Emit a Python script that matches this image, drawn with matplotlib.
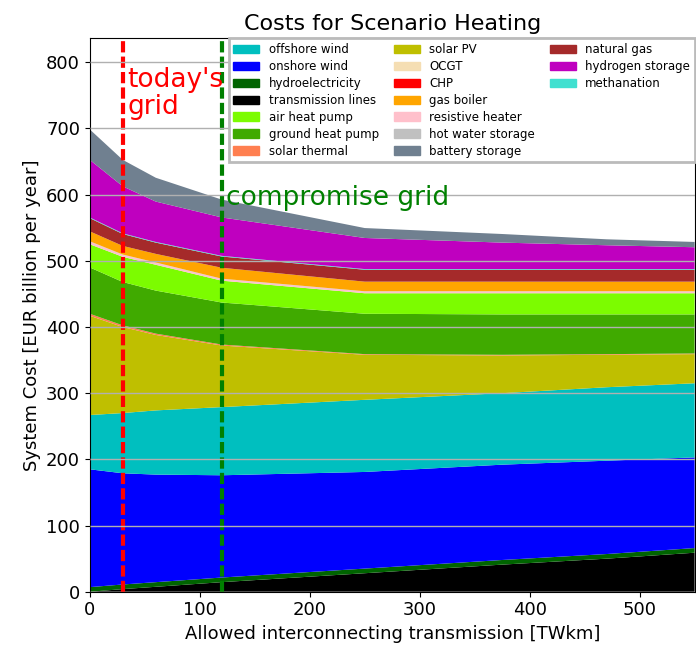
import matplotlib
matplotlib.use('Agg')
import matplotlib.pyplot as plt
import matplotlib.patches as mpatches

# allowed interconnecting transmission [TWkm]
x = [0, 30, 60, 120, 250, 375, 470, 550]

# costs [EUR billion per year], stacked bottom-up
transmission_lines = [0, 4, 7.5, 14.5, 28, 41, 50, 59]
hydroelectricity = [7, 7, 7, 7, 7, 7, 7, 7]
onshore_wind = [178, 168, 162.5, 154.5, 146, 144, 141, 137]
offshore_wind = [82, 91, 97, 103, 109, 108, 111, 112]
solar_pv = [150, 130, 114, 93, 68, 57, 49, 44]
solar_thermal = [3, 2.5, 2, 1.5, 1, 1, 1, 1]
ground_heat_pump = [70, 65.5, 65, 63.5, 61, 61, 60, 59]
air_heat_pump = [35, 38, 39, 33, 31, 32, 32, 32]
resistive_heater = [4, 3, 3, 2.5, 2.5, 2.5, 2.5, 2.5]
hot_water_storage = [0.5, 0.5, 0.5, 0.5, 0.5, 0.5, 0.5, 0.5]
gas_boiler = [15, 13, 13, 16.5, 14.5, 14.5, 14.5, 14.5]
chp = [0, 0, 0, 0, 0, 0, 0, 0]
ocgt = [0, 0, 0, 0, 0, 0, 0, 0]
natural_gas = [20, 18, 17, 17, 18, 18, 18, 18]
methanation = [1, 1, 1, 1, 1, 1, 1, 1]
hydrogen_storage = [87, 71, 61, 58, 47, 40, 36, 33]
battery_storage = [46, 40, 36, 27, 15, 13, 9, 8]

stack = [
	('transmission lines', transmission_lines, 'k'),
	('hydroelectricity', hydroelectricity, 'darkgreen'),
	('onshore wind', onshore_wind, 'b'),
	('offshore wind', offshore_wind, 'c'),
	('solar PV', solar_pv, 'y'),
	('solar thermal', solar_thermal, 'coral'),
	('ground heat pump', ground_heat_pump, '#40AA00'),
	('air heat pump', air_heat_pump, 'lawngreen'),
	('resistive heater', resistive_heater, 'pink'),
	('hot water storage', hot_water_storage, 'silver'),
	('gas boiler', gas_boiler, 'orange'),
	('CHP', chp, 'r'),
	('OCGT', ocgt, 'wheat'),
	('natural gas', natural_gas, 'brown'),
	('methanation', methanation, 'turquoise'),
	('hydrogen storage', hydrogen_storage, 'm'),
	('battery storage', battery_storage, 'slategray'),
]
colors = dict((s[0], s[2]) for s in stack)

legend_order = ['offshore wind', 'onshore wind', 'hydroelectricity', 'transmission lines',
	'air heat pump', 'ground heat pump', 'solar thermal',
	'solar PV', 'OCGT', 'CHP', 'gas boiler', 'resistive heater', 'hot water storage', 'battery storage',
	'natural gas', 'hydrogen storage', 'methanation']

today = 30
compromise = 120

fig = plt.figure(figsize=(6.96, 6.51), dpi=100)
ax = fig.add_axes([0.129, 0.091, 0.869, 0.850])

ax.stackplot(x, [s[1] for s in stack], colors=[s[2] for s in stack])

ax.set_xlim([0, 550])
ax.set_ylim([0, 836])
ax.yaxis.grid(True, color='#b0b0b0', linewidth=1)
ax.set_axisbelow(False)

ax.axvline(today, color='r', linewidth=3, linestyle=(0, (2.7, 1)))
ax.axvline(compromise, color='g', linewidth=3, linestyle=(0, (2.7, 1)))
ax.text(today + 4, 712, "today's\ngrid", color='r', fontsize=19, va='bottom', linespacing=1.05)
ax.text(compromise + 4, 576, 'compromise grid', color='g', fontsize=19, va='bottom')

handles = [mpatches.Patch(color=colors[n], label=n) for n in legend_order]
# pad the third column so that it holds only three entries
for i in range(4):
	handles.append(mpatches.Patch(color='none', label=''))
leg = ax.legend(handles=handles, ncol=3, loc='upper right', fontsize=8.5,
	borderaxespad=0, labelspacing=0.33, columnspacing=1.25, handlelength=2.2,
	fancybox=False, framealpha=1)
leg.get_frame().set_edgecolor('#bbbbbb')
leg.get_frame().set_linewidth(2)

ax.tick_params(labelsize=13)
ax.set_title('Costs for Scenario Heating', fontsize=16)
ax.set_xlabel('Allowed interconnecting transmission [TWkm]', fontsize=13)
ax.set_ylabel('System Cost [EUR billion per year]', fontsize=13)

fig.savefig('out.png', dpi=100)
